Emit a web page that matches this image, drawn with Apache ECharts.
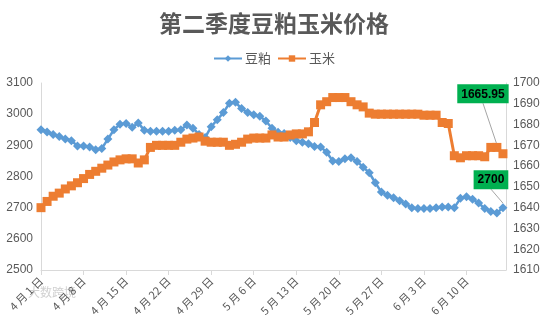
<!DOCTYPE html>
<html>
<head>
<meta charset="utf-8">
<script src="https://cdn.jsdelivr.net/npm/echarts@6/dist/echarts.min.js"></script>
<style>
  html, body { margin: 0; padding: 0; background: #fff; }
  #chart { width: 548px; height: 326px; }
</style>
</head>
<body>
<div id="chart"></div>
<script>
// Daily prices from 1 April; index 0 = 4月1日
const startMonth = 4, startDay = 1;
// 豆粕 (left axis)
const soy = [
  2950, 2943, 2935, 2928, 2920, 2915, 2898, 2898, 2895, 2886,
  2890, 2920, 2950, 2968, 2970, 2958, 2972, 2948, 2945, 2945,
  2945, 2945, 2948, 2950, 2965, 2955, 2935, 2925, 2960, 2982,
  3005, 3035, 3038, 3018, 3005, 2998, 2993, 2978, 2955, 2942,
  2938, 2925, 2915, 2910, 2905, 2896, 2895, 2878, 2850, 2848,
  2857, 2860, 2848, 2830, 2812, 2780, 2750, 2740, 2732, 2722,
  2712, 2700, 2697, 2697, 2697, 2700, 2702, 2702, 2700, 2730,
  2735, 2727, 2715, 2697, 2688, 2683, 2700
];
// 玉米 (right axis)
const corn = [
  1640, 1643, 1645.5, 1647, 1649, 1650.5, 1652, 1654, 1656, 1657.5,
  1659, 1660.5, 1662, 1663, 1663.5, 1663.5, 1661.5, 1663, 1669, 1670,
  1670, 1670, 1670, 1671.5, 1673, 1673.5, 1674, 1672, 1671.5, 1671.5,
  1671.5, 1670, 1670.5, 1671.5, 1673, 1673.5, 1673.5, 1673.5, 1675, 1674,
  1674, 1675, 1675.5, 1675.5, 1676.5, 1681, 1689.5, 1691, 1693, 1693,
  1693, 1691, 1689.5, 1688.5, 1685.5, 1685, 1685, 1685, 1685, 1685,
  1685, 1685, 1685, 1684.5, 1684.5, 1684.5, 1681, 1680.5, 1665, 1664,
  1665, 1665, 1665, 1664.5, 1669, 1669, 1665.95
];
const seriesNames = ['豆粕', '玉米'];
const leftTicks = { min: 2500, max: 3100, step: 100 };
const rightTicks = { min: 1610, max: 1700, step: 10 };
const tickDays = 7;

const FONT = '"Liberation Sans", "Noto Sans CJK SC", sans-serif';
const CJK = '"Noto Sans CJK SC", sans-serif';
const GREY_TEXT = '#595959';
const AXIS_LINE = '#d9d9d9';

function dayLabel(i) {
  const d = new Date(2019, startMonth - 1, startDay + i);
  return (d.getMonth() + 1) + ' 月 ' + d.getDate() + ' 日';
}

function withEndLabel(values, labelOpts) {
  return values.map((v, i) => {
    if (i !== values.length - 1) return [i, v];
    return { value: [i, v], label: labelOpts };
  });
}

const calloutLabel = {
  show: true,
  position: 'top',
  formatter: p => String(p.value[1]),
  backgroundColor: '#00b050',
  color: '#000',
  fontFamily: FONT,
  fontSize: 12,
  fontWeight: 'bold',
  padding: [4, 4, 3, 4]
};

const plainNumber = v => String(v);

const chart = echarts.init(document.getElementById('chart'), null, { renderer: 'canvas' });
chart.setOption({
  backgroundColor: '#fff',
  animation: false,
  title: {
    text: '第二季度豆粕玉米价格',
    left: 'center',
    top: 7,
    textStyle: { fontFamily: CJK, fontSize: 23, fontWeight: 'bold', color: GREY_TEXT }
  },
  legend: {
    data: seriesNames,
    top: 47,
    left: 'center',
    itemWidth: 28,
    itemHeight: 8,
    itemGap: 6,
    textStyle: { fontFamily: CJK, fontSize: 13, color: GREY_TEXT, padding: [0, 0, 0, -2] }
  },
  grid: { left: 41, right: 42, top: 83, bottom: 56, containLabel: false },
  xAxis: {
    type: 'value',
    min: 0,
    max: soy.length - 0.5,
    interval: tickDays,
    splitLine: { show: false },
    axisLine: { show: true, lineStyle: { color: AXIS_LINE, width: 1 } },
    axisTick: { show: true, length: 5, lineStyle: { color: AXIS_LINE } },
    axisLabel: {
      rotate: 45,
      showMaxLabel: false,
      margin: 9,
      fontFamily: CJK,
      fontSize: 11,
      color: GREY_TEXT,
      formatter: v => (v % tickDays === 0 ? dayLabel(v) : '')
    }
  },
  yAxis: [
    {
      type: 'value',
      min: leftTicks.min, max: leftTicks.max, interval: leftTicks.step,
      splitLine: { show: false },
      axisLine: { show: true, lineStyle: { color: AXIS_LINE } },
      axisTick: { show: false },
      axisLabel: { fontFamily: FONT, fontSize: 12, color: GREY_TEXT, margin: 8, formatter: plainNumber }
    },
    {
      type: 'value',
      position: 'right',
      min: rightTicks.min, max: rightTicks.max, interval: rightTicks.step,
      splitLine: { show: false },
      axisLine: { show: true, lineStyle: { color: AXIS_LINE } },
      axisTick: { show: false },
      axisLabel: { fontFamily: FONT, fontSize: 12, color: GREY_TEXT, margin: 7, formatter: plainNumber }
    }
  ],
  series: [
    {
      name: seriesNames[0],
      type: 'line',
      yAxisIndex: 0,
      data: withEndLabel(soy, calloutLabel),
      symbol: 'diamond',
      symbolSize: 9,
      showAllSymbol: true,
      color: '#5b9bd5',
      lineStyle: { width: 2.5, color: '#5b9bd5' },
      itemStyle: { color: '#5b9bd5' },
      labelLayout: { dx: -12, dy: -9 },
      labelLine: { show: true, lineStyle: { color: '#a6a6a6', width: 1 } },
      z: 2
    },
    {
      name: seriesNames[1],
      type: 'line',
      yAxisIndex: 1,
      data: withEndLabel(corn, calloutLabel),
      symbol: 'rect',
      symbolSize: 9,
      showAllSymbol: true,
      color: '#ed7d31',
      lineStyle: { width: 3, color: '#ed7d31' },
      itemStyle: { color: '#ed7d31' },
      labelLayout: { dx: -20, dy: -41 },
      labelLine: { show: true, lineStyle: { color: '#a6a6a6', width: 1 } },
      z: 3
    }
  ],
  graphic: [
    {
      type: 'text',
      left: 28,
      top: 286,
      style: { text: '大数跨境', fontFamily: CJK, fontSize: 12, fill: 'rgba(170,170,170,0.55)' }
    }
  ]
});
</script>
</body>
</html>
